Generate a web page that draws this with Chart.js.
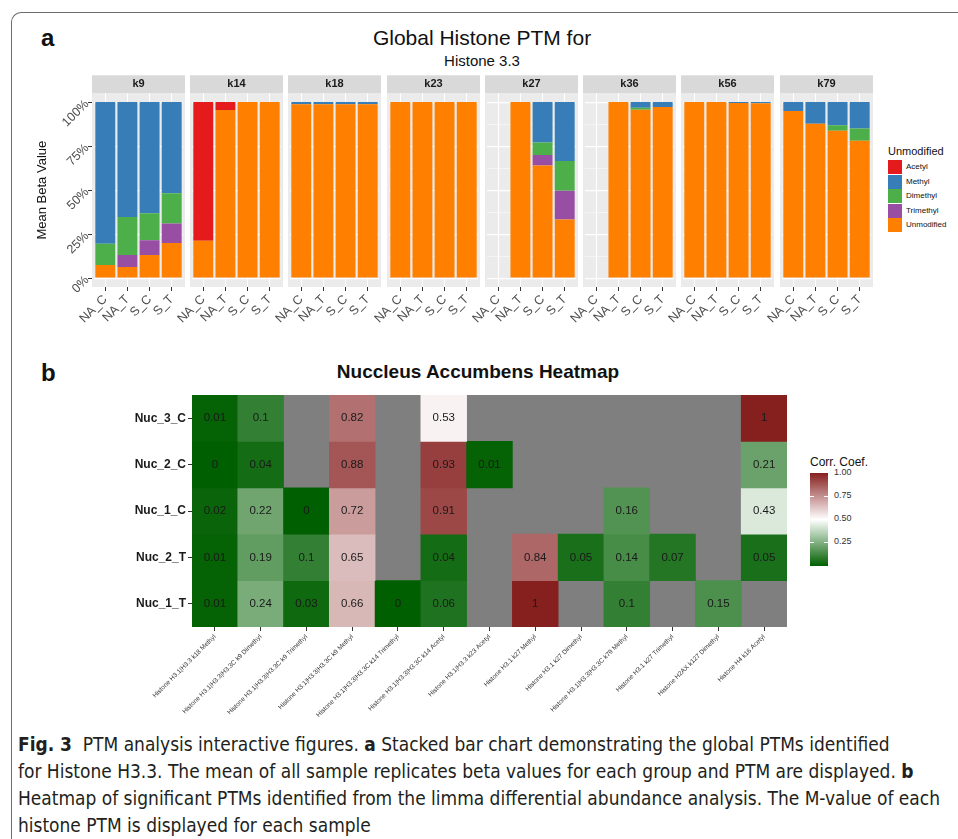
<!DOCTYPE html>
<html>
<head>
<meta charset="utf-8">
<script src="https://cdn.jsdelivr.net/npm/chart.js@4.4.0/dist/chart.umd.min.js"></script>
<style>
  body { margin: 0; width: 958px; height: 839px; background: #fff; overflow: hidden; position: relative;
         font-family: "Liberation Sans", Arial, sans-serif; color: #111; }
  .abs { position: absolute; }
  .frame { position: absolute; left: 11px; top: 12px; width: 1000px; height: 900px;
           border-top: 1.5px solid #6b6b6b; border-left: 1.5px solid #6b6b6b; border-top-left-radius: 10px; }
  .letter { position: absolute; font-weight: bold; font-size: 24px; line-height: 24px; }
  .title { position: absolute; text-align: center; white-space: nowrap; }
  .legend { position: absolute; left: 888px; top: 145px; font-size: 11px; }
  .legend .item { position: absolute; left: 0; width: 80px; height: 14px; }
  .legend .sw { position: absolute; left: 0; top: 0; width: 14px; height: 14px; }
  .legend .lab { position: absolute; left: 18px; top: 2px; font-size: 8px; white-space: nowrap; }
  .caption { position: absolute; left: 18px; top: 731px; font-family: "Liberation Sans Narrow", "DejaVu Sans Condensed", sans-serif;
             font-size: 20px; line-height: 27px; color: #231f20; white-space: nowrap; transform-origin: 0 0; }
  canvas { position: absolute; }
</style>
</head>
<body>
<div class="frame"></div>
<div class="letter" style="left:41px; top:26px;">a</div>
<div class="letter" style="left:41px; top:361px;">b</div>
<div class="title" style="left:282px; width:400px; top:26px; font-size:21px;">Global Histone PTM for</div>
<div class="title" style="left:282px; width:400px; top:52px; font-size:15px;">Histone 3.3</div>
<div class="title" style="left:278px; width:400px; top:361px; font-size:19px; font-weight:bold;">Nuccleus Accumbens Heatmap</div>
<div class="legend" id="legend"><div style="position:absolute; left:0; top:0; white-space:nowrap;">Unmodified</div></div>
<div id="colorbar"></div>
<div class="caption" id="caption">
  <div><b>Fig. 3</b>&nbsp; PTM analysis interactive figures. <b>a</b> Stacked bar chart demonstrating the global PTMs identified</div>
  <div>for Histone H3.3. The mean of all sample replicates beta values for each group and PTM are displayed. <b>b</b></div>
  <div id="capline3">Heatmap of significant PTMs identified from the limma differential abundance analysis. The M-value of each</div>
  <div>histone PTM is displayed for each sample</div>
</div>

<script>
Chart.defaults.font.family = '"Liberation Sans", Arial, sans-serif';
Chart.defaults.animation = false;

// ---- panel a data (percent of mean beta value) ----
const groups = ["NA_C", "NA_T", "S_C", "S_T"];
const sites = ["k9", "k14", "k18", "k23", "k27", "k36", "k56", "k79"];
const ptmNames = ["Acetyl", "Methyl", "Dimethyl", "Trimethyl", "Unmodified"];
const ptmColors = ["#e41a1c", "#377eb8", "#4daf4a", "#984ea3", "#ff7f00"];

const unmodified = [[7.5, 6.4, 13.2, 20.0], [21.2, 95.5, 100, 100], [98.8, 98.8, 98.8, 98.8], [100, 100, 100, 100],
                    [null, 100, 64.0, 33.3], [null, 100, 95.6, 97.2], [100, 100, 99.5, 99.4], [94.9, 87.7, 83.7, 78.0]];
const trimethyl  = [[0, 6.8, 8.4, 11.0], [0, 0, 0, 0], [0, 0, 0, 0], [0, 0, 0, 0],
                    [null, 0, 6.0, 16.3], [null, 0, 0, 0], [0, 0, 0, 0], [0, 0, 0, 0]];
const dimethyl   = [[12.0, 21.5, 15.3, 17.3], [0, 0, 0, 0], [0, 0, 0, 0], [0, 0, 0, 0],
                    [null, 0, 7.0, 16.9], [null, 0, 1.2, 0], [0, 0, 0, 0], [0, 0, 3.2, 7.0]];
const methyl     = [[80.5, 65.3, 63.1, 51.7], [0, 0, 0, 0], [1.2, 1.2, 1.2, 1.2], [0, 0, 0, 0],
                    [null, 0, 23.0, 33.5], [null, 0, 3.2, 2.8], [0, 0, 0.5, 0.6], [5.1, 12.3, 13.1, 15.0]];
const acetyl     = [[0, 0, 0, 0], [78.8, 4.5, 0, 0], [0, 0, 0, 0], [0, 0, 0, 0],
                    [null, 0, 0, 0], [null, 0, 0, 0], [0, 0, 0, 0], [0, 0, 0, 0]];
const yTicks = [0, 12.5, 25, 37.5, 50, 62.5, 75, 87.5, 100];

// ---- panel b data ----
const heatRows = ["Nuc_3_C", "Nuc_2_C", "Nuc_1_C", "Nuc_2_T", "Nuc_1_T"];
const heatCols = ["Histone H3.1|H3.3 k18 Methyl", "Histone H3.1|H3.3|H3.3C k9 Dimethyl", "Histone H3.1|H3.3|H3.3C k9 Trimethyl",
                  "Histone H3.1|H3.3|H3.3C k9 Methyl", "Histone H3.1|H3.3|H3.3C k14 Trimethyl", "Histone H3.1|H3.3|H3.3C k14 Acetyl",
                  "Histone H3.1|H3.3 k23 Acetyl", "Histone H3.1 k27 Methyl", "Histone H3.1 k27 Dimethyl",
                  "Histone H3.1|H3.3|H3.3C k79 Methyl", "Histone H3.1 k27 Trimethyl", "Histone H2AX k127 Dimethyl", "Histone H4 k16 Acetyl"];
const nuc3C = [0.01, 0.1, null, 0.82, null, 0.53, null, null, null, null, null, null, 1];
const nuc2C = [0, 0.04, null, 0.88, null, 0.93, 0.01, null, null, null, null, null, 0.21];
const nuc1C = [0.02, 0.22, 0, 0.72, null, 0.91, null, null, null, 0.16, null, null, 0.43];
const nuc2T = [0.01, 0.19, 0.1, 0.65, null, 0.04, null, 0.84, 0.05, 0.14, 0.07, null, 0.05];
const nuc1T = [0.01, 0.24, 0.03, 0.66, 0, 0.06, null, 1, null, 0.1, null, 0.15, null];
const heatValues = [nuc3C, nuc2C, nuc1C, nuc2T, nuc1T];
const barTicks = [0.25, 0.5, 0.75, 1.0];

// ---- colours for correlation ----
const lowColor = [0, 95, 0], midColor = [255, 255, 255], highColor = [134, 32, 31];
function corrColor(v) {
  const t = (v - 0.5) / 0.5;
  const end = t < 0 ? lowColor : highColor;
  const k = Math.abs(t);
  const c = midColor.map((m, i) => Math.round(m + (end[i] - m) * k));
  return "rgb(" + c.join(",") + ")";
}

// ggplot pads discrete axes by 0.6 of a category, chart.js by 0.5
const plotWidth = 93;
const expand = plotWidth * 0.1 / 4.2;

// ---- facet background + strip + y tick marks ----
const facetPanel = {
  id: "facetPanel",
  beforeDraw(chart, args, opts) {
    const { ctx, chartArea: a } = chart;
    const l = a.left - expand, w = a.right - a.left + 2 * expand;
    ctx.save();
    ctx.fillStyle = "#ebebeb";
    ctx.fillRect(l, a.top, w, a.bottom - a.top);
    ctx.fillStyle = "#d9d9d9";
    ctx.fillRect(l, a.top - 18, w, 18);
    ctx.fillStyle = "#1a1a1a";
    ctx.font = 'bold 11px "Liberation Sans", Arial, sans-serif';
    ctx.textAlign = "center";
    ctx.textBaseline = "middle";
    ctx.fillText(opts.label, (a.left + a.right) / 2, a.top - 9);
    ctx.restore();
  },
  afterDraw(chart, args, opts) {
    if (!opts.yTicks) return;
    const { ctx, chartArea: a, scales } = chart;
    ctx.save();
    ctx.strokeStyle = "#333333";
    ctx.lineWidth = 1;
    yTicks.filter(v => v % 25 === 0).forEach(v => {
      const y = Math.round(scales.y.getPixelForValue(v)) + 0.5;
      ctx.beginPath();
      ctx.moveTo(a.left - expand - 4, y);
      ctx.lineTo(a.left - expand, y);
      ctx.stroke();
    });
    ctx.restore();
  }
};

const plotLefts = [92, 190, 288, 387, 485, 583, 681, 780];
const stackOrder = [
  { name: "Unmodified", data: unmodified },
  { name: "Trimethyl", data: trimethyl },
  { name: "Dimethyl", data: dimethyl },
  { name: "Methyl", data: methyl },
  { name: "Acetyl", data: acetyl }
];

sites.forEach((site, i) => {
  const first = i === 0;
  const padL = first ? 0 : 40;
  const yW = first ? 72 : 0;
  const cv = document.createElement("canvas");
  cv.width = padL + yW + plotWidth + 6;
  cv.height = 267;
  cv.style.left = (plotLefts[i] - padL - yW) + "px";
  cv.style.top = "70px";
  document.body.appendChild(cv);

  new Chart(cv, {
    type: "bar",
    data: {
      labels: groups,
      datasets: stackOrder.map(s => ({
        label: s.name,
        data: s.data[i],
        backgroundColor: ptmColors[ptmNames.indexOf(s.name)],
        borderWidth: 0,
        categoryPercentage: 1,
        barPercentage: 0.9
      }))
    },
    options: {
      responsive: false,
      events: [],
      layout: { padding: { left: first ? 0 : padL + expand, right: 6 + expand, top: 23.3, bottom: 0 } },
      plugins: { legend: { display: false }, tooltip: { enabled: false }, facetPanel: { label: site, yTicks: first } },
      scales: {
        x: {
          stacked: true,
          border: { display: false },
          grid: { offset: false, color: "#ffffff", lineWidth: 1, tickLength: 4, tickColor: "#333333" },
          ticks: { minRotation: 45, maxRotation: 45, autoSkip: false, color: "#4d4d4d", font: { size: 12.5 }, padding: 1 },
          afterFit: s => { s.height = 50; }
        },
        y: {
          stacked: true,
          min: -5, max: 105,
          border: { display: false },
          afterBuildTicks: s => { s.ticks = yTicks.map(v => ({ value: v })); },
          afterFit: s => { s.width = first ? yW + expand : 0; },
          grid: {
            color: "#ffffff",
            lineWidth: c => (c.tick && c.tick.value % 25 === 0 ? 1.2 : 0.5),
            drawTicks: first,
            tickLength: 4 + expand,
            tickColor: "rgba(0,0,0,0)"
          },
          ticks: {
            display: first,
            minRotation: 45, maxRotation: 45,
            color: "#4d4d4d", font: { size: 12.5 }, padding: 1,
            callback: v => (v % 25 === 0 ? v + "%" : "")
          },
          title: {
            display: first, text: "Mean Beta Value", color: "#111", font: { size: 13 },
            padding: { top: 15, bottom: 0 }
          }
        }
      }
    },
    plugins: [facetPanel]
  });
});

// legend for panel a (top to bottom like the stacks)
const legendEl = document.getElementById("legend");
ptmNames.forEach((n, k) => {
  const it = document.createElement("div");
  it.className = "item";
  it.style.top = (15 + k * 14.6) + "px";
  it.innerHTML = '<div class="sw" style="background:' + ptmColors[k] + '"></div><div class="lab">' + n + "</div>";
  legendEl.appendChild(it);
});

// ---- heatmap ----
const heatBg = {
  id: "heatBg",
  beforeDraw(chart) {
    const { ctx, chartArea: a } = chart;
    ctx.save();
    ctx.fillStyle = "#7f7f7f";
    ctx.fillRect(a.left, a.top, a.right - a.left, a.bottom - a.top);
    ctx.restore();
  },
  afterDatasetsDraw(chart) {
    const ctx = chart.ctx;
    ctx.save();
    ctx.fillStyle = "#1a1a1a";
    ctx.font = '11.5px "Liberation Sans", Arial, sans-serif';
    ctx.textAlign = "center";
    ctx.textBaseline = "middle";
    chart.data.datasets.forEach((ds, r) => {
      chart.getDatasetMeta(r).data.forEach((el, j) => {
        const v = heatValues[r][j];
        if (v === null) return;
        ctx.fillText(String(v), el.x, (el.y + el.base) / 2);
      });
    });
    ctx.restore();
  }
};

const hc = document.createElement("canvas");
hc.width = 697; hc.height = 352;
hc.style.left = "100px"; hc.style.top = "385px";
document.body.appendChild(hc);

new Chart(hc, {
  type: "bar",
  data: {
    labels: heatCols,
    datasets: heatRows.map((row, r) => ({
      label: row,
      data: heatValues[r].map(v => (v === null ? null : [r, r + 1])),
      backgroundColor: heatValues[r].map(v => (v === null ? "#7f7f7f" : corrColor(v))),
      borderWidth: 0,
      grouped: false,
      categoryPercentage: 1,
      barPercentage: 1
    }))
  },
  options: {
    responsive: false,
    events: [],
    layout: { padding: { left: 0, right: 10, top: 10, bottom: 0 } },
    plugins: { legend: { display: false }, tooltip: { enabled: false } },
    scales: {
      x: {
        border: { display: false },
        grid: { offset: false, drawOnChartArea: false, tickLength: 4, tickColor: "#333333" },
        ticks: { minRotation: 45, maxRotation: 45, color: "#333333", font: { size: 6.5 }, padding: 2, autoSkip: false },
        afterFit: s => { s.height = 110; }
      },
      y: {
        min: 0, max: 5, reverse: true,
        border: { display: false },
        afterBuildTicks: s => { s.ticks = heatRows.map((r, k) => ({ value: k + 0.5 })); },
        afterFit: s => { s.width = 92; },
        grid: { drawOnChartArea: false, tickLength: 4, tickColor: "#333333" },
        ticks: { color: "#1a1a1a", font: { size: 12, weight: "bold" }, padding: 2,
                 callback: (v, k) => heatRows[k] }
      }
    }
  },
  plugins: [heatBg]
});

// colour bar legend
const cb = document.getElementById("colorbar");
const barTop = 473, barH = 92.5, barLeft = 810;
const stops = [];
for (let k = 0; k <= 20; k++) stops.push(corrColor(k / 20) + " " + (k * 5) + "%");
cb.innerHTML =
  '<div class="abs" style="left:' + barLeft + 'px; top:' + (barTop - 18) + 'px; font-size:12px; white-space:nowrap;">Corr. Coef.</div>' +
  '<div class="abs" style="left:' + barLeft + 'px; top:' + barTop + 'px; width:18px; height:' + barH + 'px; background:linear-gradient(to top,' + stops.join(",") + ');"></div>';
barTicks.forEach(t => {
  const y = barTop + barH * (1 - t);
  if (t < 1) {
    cb.innerHTML += '<div class="abs" style="left:' + barLeft + 'px; top:' + (y - 0.5) + 'px; width:4px; height:1px; background:#fff;"></div>' +
                    '<div class="abs" style="left:' + (barLeft + 14) + 'px; top:' + (y - 0.5) + 'px; width:4px; height:1px; background:#fff;"></div>';
  }
  cb.innerHTML += '<div class="abs" style="left:' + (barLeft + 24) + 'px; top:' + (y - 6) + 'px; font-size:9px; color:#333; white-space:nowrap;">' + t.toFixed(2) + "</div>";
});

// squeeze caption horizontally to the printed block width
const cap = document.getElementById("caption");
const l3 = document.getElementById("capline3");
l3.style.display = "inline-block";
const natural = l3.getBoundingClientRect().width;
l3.style.display = "block";
cap.style.transform = "scaleX(" + (922 / natural) + ")";
</script>
</body>
</html>
